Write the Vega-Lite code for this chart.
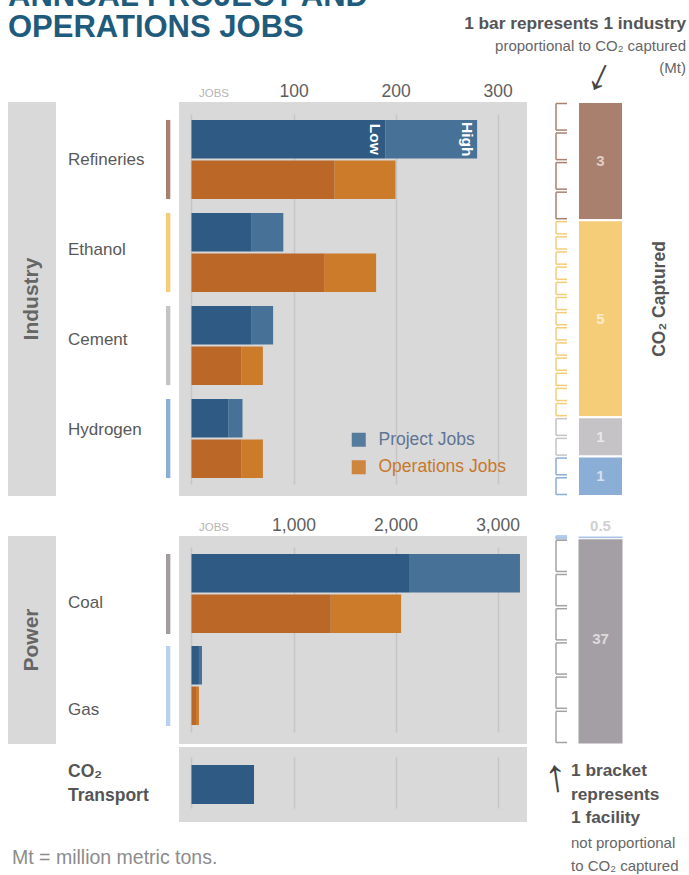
{
"$schema": "https://vega.github.io/schema/vega-lite/v6.json",
"padding": {"left": 8, "top": -19, "right": 0, "bottom": 0},
"background": "#ffffff",
"config": {"view": {"stroke": null}, "font": "Liberation Sans", "concat": {"spacing": 0}},
"datasets": {
 "industryJobs": [
  {"category": "Refineries", "jobType": "Project Jobs", "low": 190, "high": 280},
  {"category": "Refineries", "jobType": "Operations Jobs", "low": 140, "high": 200},
  {"category": "Ethanol", "jobType": "Project Jobs", "low": 59, "high": 90},
  {"category": "Ethanol", "jobType": "Operations Jobs", "low": 130, "high": 181},
  {"category": "Cement", "jobType": "Project Jobs", "low": 59, "high": 80},
  {"category": "Cement", "jobType": "Operations Jobs", "low": 49, "high": 70},
  {"category": "Hydrogen", "jobType": "Project Jobs", "low": 36, "high": 50},
  {"category": "Hydrogen", "jobType": "Operations Jobs", "low": 49, "high": 70}
 ],
 "powerJobs": [
  {"category": "Coal", "jobType": "Project Jobs", "low": 2140, "high": 3220},
  {"category": "Coal", "jobType": "Operations Jobs", "low": 1365, "high": 2055},
  {"category": "Gas", "jobType": "Project Jobs", "low": 73, "high": 103},
  {"category": "Gas", "jobType": "Operations Jobs", "low": 44, "high": 73}
 ],
 "transportJobs": [
  {"category": "CO₂ Transport", "jobType": "Project Jobs", "low": 613}
 ],
 "industryCO2": [
  {"category": "Refineries", "co2": 3, "rank": 1},
  {"category": "Ethanol", "co2": 5, "rank": 2},
  {"category": "Cement", "co2": 1, "rank": 3},
  {"category": "Hydrogen", "co2": 1, "rank": 4}
 ],
 "powerCO2": [
  {"category": "Gas", "co2": 0.5, "rank": 1},
  {"category": "Coal", "co2": 37, "rank": 2}
 ],
 "industryFacilities": [
  {"category": "Refineries", "facility": 1, "co2": 0.75, "rank": 1},
  {"category": "Refineries", "facility": 2, "co2": 0.75, "rank": 1},
  {"category": "Refineries", "facility": 3, "co2": 0.75, "rank": 1},
  {"category": "Refineries", "facility": 4, "co2": 0.75, "rank": 1},
  {"category": "Ethanol", "facility": 1, "co2": 0.3846, "rank": 2},
  {"category": "Ethanol", "facility": 2, "co2": 0.3846, "rank": 2},
  {"category": "Ethanol", "facility": 3, "co2": 0.3846, "rank": 2},
  {"category": "Ethanol", "facility": 4, "co2": 0.3846, "rank": 2},
  {"category": "Ethanol", "facility": 5, "co2": 0.3846, "rank": 2},
  {"category": "Ethanol", "facility": 6, "co2": 0.3846, "rank": 2},
  {"category": "Ethanol", "facility": 7, "co2": 0.3846, "rank": 2},
  {"category": "Ethanol", "facility": 8, "co2": 0.3846, "rank": 2},
  {"category": "Ethanol", "facility": 9, "co2": 0.3846, "rank": 2},
  {"category": "Ethanol", "facility": 10, "co2": 0.3846, "rank": 2},
  {"category": "Ethanol", "facility": 11, "co2": 0.3846, "rank": 2},
  {"category": "Ethanol", "facility": 12, "co2": 0.3846, "rank": 2},
  {"category": "Ethanol", "facility": 13, "co2": 0.3846, "rank": 2},
  {"category": "Cement", "facility": 1, "co2": 0.5, "rank": 3},
  {"category": "Cement", "facility": 2, "co2": 0.5, "rank": 3},
  {"category": "Hydrogen", "facility": 1, "co2": 0.5, "rank": 4},
  {"category": "Hydrogen", "facility": 2, "co2": 0.5, "rank": 4}
 ],
 "powerFacilities": [
  {"category": "Gas", "facility": 1, "co2": 0.25, "rank": 1},
  {"category": "Gas", "facility": 2, "co2": 0.25, "rank": 1},
  {"category": "Coal", "facility": 1, "co2": 6.1667, "rank": 2},
  {"category": "Coal", "facility": 2, "co2": 6.1667, "rank": 2},
  {"category": "Coal", "facility": 3, "co2": 6.1667, "rank": 2},
  {"category": "Coal", "facility": 4, "co2": 6.1667, "rank": 2},
  {"category": "Coal", "facility": 5, "co2": 6.1667, "rank": 2},
  {"category": "Coal", "facility": 6, "co2": 6.1667, "rank": 2}
 ]
},
"columns": 7,
"spacing": 0,
"bounds": "flush",
"align": "each",
"resolve": {"scale": {"color": "independent", "fill": "independent"}, "legend": {"color": "independent", "fill": "independent"}},
"concat": [
 {"width": 48, "height": 102, "data": {"values": [{}]},
  "mark": {"type": "text", "text": ["ANNUAL PROJECT AND", "OPERATIONS JOBS"], "x": 0, "y": 6, "align": "left", "baseline": "alphabetic", "fontSize": 31, "lineHeight": 30.7, "fontWeight": "bold", "color": "#1f5b7c"}},
 {"width": 1, "height": 1, "data": {"values": [{}]}, "mark": {"type": "rect", "opacity": 0}},
 {"width": 1, "height": 1, "data": {"values": [{}]}, "mark": {"type": "rect", "opacity": 0}},
 {"width": 1, "height": 1, "data": {"values": [{}]}, "mark": {"type": "rect", "opacity": 0}},
 {"width": 1, "height": 1, "data": {"values": [{}]}, "mark": {"type": "rect", "opacity": 0}},
 {"width": 45, "height": 102, "data": {"values": [{}]},
  "mark": {"type": "text", "text": "↓", "y": 76, "align": "center", "baseline": "middle", "angle": 25, "fontSize": 46, "color": "#444444"}},
 {"width": 66, "height": 102, "data": {"values": [{}]},
  "layer": [
   {"mark": {"type": "text", "text": "1 bar represents 1 industry", "x": "width", "dx": -3, "y": 29, "align": "right", "baseline": "alphabetic", "fontSize": 17.3, "fontWeight": "bold", "color": "#555555"}},
   {"mark": {"type": "text", "text": ["proportional to CO₂ captured", "(Mt)"], "x": "width", "dx": -3, "y": 51, "align": "right", "baseline": "alphabetic", "fontSize": 15, "lineHeight": 22, "color": "#666666"}}
  ]},

 {"width": 48, "height": 394, "view": {"fill": "#d9d9d9"}, "data": {"values": [{}]},
  "mark": {"type": "text", "text": "Industry", "angle": 270, "align": "center", "baseline": "middle", "fontSize": 21, "fontWeight": "bold", "color": "#666666"}},
 {"width": 110, "height": 394, "data": {"name": "industryCO2"},
  "mark": {"type": "text", "x": 0, "dx": 12, "align": "left", "baseline": "middle", "fontSize": 17, "color": "#595959"},
  "encoding": {
   "y": {"field": "category", "type": "nominal", "scale": {"type": "point", "domain": ["Refineries", "Ethanol", "Cement", "Hydrogen"], "padding": 0.689, "align": 0.464}, "axis": null},
   "text": {"field": "category", "type": "nominal"}}},
 {"width": 13, "height": 394, "data": {"name": "industryCO2"},
  "mark": {"type": "rect"},
  "encoding": {
   "x": {"datum": "line", "type": "nominal", "scale": {"paddingInner": 0, "paddingOuter": 1.125, "align": 0}, "axis": null},
   "y": {"field": "category", "type": "nominal", "scale": {"domain": ["Refineries", "Ethanol", "Cement", "Hydrogen"], "paddingInner": 0.15, "paddingOuter": 0.193}, "axis": null},
   "color": {"field": "category", "type": "nominal", "scale": {"domain": ["Refineries", "Ethanol", "Cement", "Hydrogen"], "range": ["#a9806d", "#f5cd78", "#c5c3c6", "#8baed6"]}, "legend": null}}},
 {"width": 348, "height": 394, "view": {"fill": "#d9d9d9"}, "data": {"name": "industryJobs"},
  "encoding": {
   "y": {"field": "category", "type": "nominal", "scale": {"domain": ["Refineries", "Ethanol", "Cement", "Hydrogen"], "paddingInner": 0.15, "paddingOuter": 0.193}, "axis": null},
   "yOffset": {"field": "jobType", "type": "nominal", "scale": {"domain": ["Project Jobs", "Operations Jobs"], "paddingInner": 0.05, "paddingOuter": 0}}
  },
  "layer": [
   {"mark": {"type": "bar"},
    "encoding": {
     "x": {"field": "low", "type": "quantitative", "scale": {"domain": [-12.25, 328.9], "nice": false, "zero": false},
      "axis": {"orient": "top", "values": [0, 100, 200, 300], "title": null, "domain": false, "ticks": false, "tickSize": 0, "labelPadding": 6, "labelBaseline": "alphabetic", "labelFlush": false, "labelOverlap": false,
       "labelExpr": "datum.value === 0 ? 'JOBS' : datum.label",
       "labelFontSize": {"condition": {"test": "datum.value === 0", "value": 11.5}, "value": 17.5},
       "labelColor": {"condition": {"test": "datum.value === 0", "value": "#b5b5b5"}, "value": "#5e5e5e"},
       "labelAlign": {"condition": {"test": "datum.value === 0", "value": "left"}, "value": "center"},
       "labelOffset": {"condition": {"test": "datum.value === 0", "value": 7}, "value": 0},
       "grid": true, "gridColor": "#c6c6c6", "gridWidth": 1.5, "gridDash": [0, 12, 370, 1000]}},
     "x2": {"field": "high"},
     "color": {"field": "jobType", "type": "nominal", "scale": {"domain": ["Project Jobs", "Operations Jobs"], "range": ["#477196", "#cc7b2b"]},
      "legend": {"orient": "none", "legendX": 171, "legendY": 329, "title": null, "symbolType": "square", "symbolSize": 196, "symbolStrokeWidth": 0, "symbolOpacity": 0.9, "labelFontSize": 17.5, "labelColor": {"expr": "datum.label === 'Project Jobs' ? '#5f7594' : '#c8782b'"}, "labelOffset": 11, "rowPadding": 8.5, "padding": 0, "labelLimit": 300}}
    }},
   {"mark": {"type": "bar"},
    "encoding": {
     "x": {"field": "low", "type": "quantitative"},
     "x2": {"datum": 0},
     "fill": {"field": "jobType", "type": "nominal", "scale": {"domain": ["Project Jobs", "Operations Jobs"], "range": ["#2e5a84", "#bb6727"]}, "legend": null}
    }},
   {"transform": [{"filter": "datum.category === 'Refineries' && datum.jobType === 'Project Jobs'"}],
    "mark": {"type": "text", "text": "Low", "angle": 90, "align": "center", "baseline": "top", "dy": 3, "fontSize": 15.5, "fontWeight": "bold", "color": "#ffffff"},
    "encoding": {"x": {"field": "low", "type": "quantitative"}}},
   {"transform": [{"filter": "datum.category === 'Refineries' && datum.jobType === 'Project Jobs'"}],
    "mark": {"type": "text", "text": "High", "angle": 90, "align": "center", "baseline": "top", "dy": 3, "fontSize": 15.5, "fontWeight": "bold", "color": "#ffffff"},
    "encoding": {"x": {"field": "high", "type": "quantitative"}}}
  ]
 },
 {"width": 51, "height": 394, "data": {"name": "industryFacilities"},
  "transform": [{"stack": "co2", "groupby": [], "sort": [{"field": "rank", "order": "ascending"}, {"field": "facility", "order": "ascending"}], "as": ["y0", "y1"]}],
  "encoding": {
   "color": {"field": "category", "type": "nominal", "scale": {"domain": ["Refineries", "Ethanol", "Cement", "Hydrogen"], "range": ["#a9806d", "#f5cd78", "#c5c3c6", "#8baed6"]}, "legend": null}
  },
  "layer": [
   {"mark": {"type": "rule", "strokeWidth": 1.5, "yOffset": 1.5, "y2Offset": -1.5},
    "encoding": {
     "x": {"datum": 0, "type": "quantitative", "scale": {"domain": [-2.636, 2], "nice": false, "zero": false}, "axis": null},
     "y": {"field": "y0", "type": "quantitative", "scale": {"domain": [0, 10], "reverse": true, "nice": false, "zero": false}, "axis": null},
     "y2": {"field": "y1"}}},
   {"mark": {"type": "rule", "strokeWidth": 1.5, "yOffset": 1.5},
    "encoding": {
     "x": {"datum": 0, "type": "quantitative", "axis": null},
     "x2": {"datum": 1},
     "y": {"field": "y0", "type": "quantitative", "axis": null}}},
   {"mark": {"type": "rule", "strokeWidth": 1.5, "yOffset": -1.5},
    "encoding": {
     "x": {"datum": 0, "type": "quantitative", "axis": null},
     "x2": {"datum": 1},
     "y": {"field": "y1", "type": "quantitative", "axis": null}}}
  ]
 },
 {"width": 45, "height": 394, "data": {"name": "industryCO2"},
  "encoding": {
   "x": {"datum": "co2", "type": "nominal", "scale": {"paddingInner": 0, "paddingOuter": 0}, "axis": null},
   "order": {"field": "rank", "type": "quantitative"},
   "detail": {"field": "category", "type": "nominal"}
  },
  "layer": [
   {"mark": {"type": "bar", "stroke": "#ffffff", "strokeWidth": 2},
    "encoding": {
     "y": {"field": "co2", "type": "quantitative", "stack": "zero", "scale": {"domain": [0, 10], "reverse": true, "nice": false, "zero": false}, "axis": null},
     "color": {"field": "category", "type": "nominal", "scale": {"domain": ["Refineries", "Ethanol", "Cement", "Hydrogen"], "range": ["#a9806d", "#f5cd78", "#c5c3c6", "#8baed6"]}, "legend": null}}},
   {"mark": {"type": "text", "color": "#ffffff", "opacity": 0.62, "fontSize": 15, "fontWeight": "bold", "baseline": "middle"},
    "encoding": {
     "y": {"field": "co2", "type": "quantitative", "stack": "zero", "bandPosition": 0.5},
     "text": {"field": "co2", "type": "quantitative"}}}
  ]
 },
 {"width": 66, "height": 394, "data": {"values": [{}]},
  "mark": {"type": "text", "text": "CO₂ Captured", "angle": 270, "xOffset": 4, "align": "center", "baseline": "middle", "fontSize": 17.5, "fontWeight": "bold", "color": "#555555"}},

 {"width": 1, "height": 40, "data": {"values": [{}]}, "mark": {"type": "rect", "opacity": 0}},
 {"width": 1, "height": 1, "data": {"values": [{}]}, "mark": {"type": "rect", "opacity": 0}},
 {"width": 1, "height": 1, "data": {"values": [{}]}, "mark": {"type": "rect", "opacity": 0}},
 {"width": 1, "height": 1, "data": {"values": [{}]}, "mark": {"type": "rect", "opacity": 0}},
 {"width": 1, "height": 1, "data": {"values": [{}]}, "mark": {"type": "rect", "opacity": 0}},
 {"width": 1, "height": 1, "data": {"values": [{}]}, "mark": {"type": "rect", "opacity": 0}},
 {"width": 1, "height": 1, "data": {"values": [{}]}, "mark": {"type": "rect", "opacity": 0}},

 {"width": 48, "height": 208, "view": {"fill": "#d9d9d9"}, "data": {"values": [{}]},
  "mark": {"type": "text", "text": "Power", "angle": 270, "align": "center", "baseline": "middle", "fontSize": 21, "fontWeight": "bold", "color": "#666666"}},
 {"width": 110, "height": 208, "data": {"name": "powerCO2"},
  "mark": {"type": "text", "x": 0, "dx": 12, "align": "left", "baseline": "middle", "fontSize": 17, "color": "#595959"},
  "encoding": {
   "y": {"field": "category", "type": "nominal", "scale": {"type": "point", "domain": ["Coal", "Gas"], "padding": 0.472, "align": 0.663}, "axis": null},
   "text": {"field": "category", "type": "nominal"}}},
 {"width": 13, "height": 208, "data": {"name": "powerCO2"},
  "mark": {"type": "rect"},
  "encoding": {
   "x": {"datum": "line", "type": "nominal", "scale": {"paddingInner": 0, "paddingOuter": 1.125, "align": 0}, "axis": null},
   "y": {"field": "category", "type": "nominal", "scale": {"domain": ["Coal", "Gas"], "paddingInner": 0.13, "paddingOuter": 0.1955}, "axis": null},
   "color": {"field": "category", "type": "nominal", "scale": {"domain": ["Coal", "Gas"], "range": ["#a09c9f", "#b9d0ee"]}, "legend": null}}},
 {"width": 348, "height": 208, "view": {"fill": "#d9d9d9"}, "data": {"name": "powerJobs"},
  "encoding": {
   "y": {"field": "category", "type": "nominal", "scale": {"domain": ["Coal", "Gas"], "paddingInner": 0.13, "paddingOuter": 0.1955}, "axis": null},
   "yOffset": {"field": "jobType", "type": "nominal", "scale": {"domain": ["Project Jobs", "Operations Jobs"], "paddingInner": 0.05, "paddingOuter": 0}}
  },
  "layer": [
   {"mark": {"type": "bar"},
    "encoding": {
     "x": {"field": "low", "type": "quantitative", "scale": {"domain": [-122.5, 3289], "nice": false, "zero": false},
      "axis": {"orient": "top", "values": [0, 1000, 2000, 3000], "title": null, "domain": false, "ticks": false, "tickSize": 0, "labelPadding": 6, "labelBaseline": "alphabetic", "labelFlush": false, "labelOverlap": false,
       "labelExpr": "datum.value === 0 ? 'JOBS' : format(datum.value, ',')",
       "labelFontSize": {"condition": {"test": "datum.value === 0", "value": 11.5}, "value": 17.5},
       "labelColor": {"condition": {"test": "datum.value === 0", "value": "#b5b5b5"}, "value": "#5e5e5e"},
       "labelAlign": {"condition": {"test": "datum.value === 0", "value": "left"}, "value": "center"},
       "labelOffset": {"condition": {"test": "datum.value === 0", "value": 7}, "value": 0},
       "grid": true, "gridColor": "#c6c6c6", "gridWidth": 1.5, "gridDash": [0, 11, 185, 1000]}},
     "x2": {"field": "high"},
     "color": {"field": "jobType", "type": "nominal", "scale": {"domain": ["Project Jobs", "Operations Jobs"], "range": ["#477196", "#cc7b2b"]}, "legend": null}
    }},
   {"mark": {"type": "bar"},
    "encoding": {
     "x": {"field": "low", "type": "quantitative"},
     "x2": {"datum": 0},
     "fill": {"field": "jobType", "type": "nominal", "scale": {"domain": ["Project Jobs", "Operations Jobs"], "range": ["#2e5a84", "#bb6727"]}, "legend": null}
    }}
  ]
 },
 {"width": 51, "height": 208, "data": {"name": "powerFacilities"},
  "transform": [{"stack": "co2", "groupby": [], "sort": [{"field": "rank", "order": "ascending"}, {"field": "facility", "order": "ascending"}], "as": ["y0", "y1"]}],
  "encoding": {
   "color": {"field": "category", "type": "nominal", "scale": {"domain": ["Gas", "Coal"], "range": ["#a9c5e6", "#a3a3a3"]}, "legend": null}
  },
  "layer": [
   {"mark": {"type": "rule", "strokeWidth": 1.5, "yOffset": 1.5, "y2Offset": -1.5},
    "encoding": {
     "x": {"datum": 0, "type": "quantitative", "scale": {"domain": [-2.636, 2], "nice": false, "zero": false}, "axis": null},
     "y": {"field": "y0", "type": "quantitative", "scale": {"domain": [0, 37.5], "reverse": true, "nice": false, "zero": false}, "axis": null},
     "y2": {"field": "y1"}}},
   {"mark": {"type": "rule", "strokeWidth": 1.5, "yOffset": 1.5},
    "encoding": {
     "x": {"datum": 0, "type": "quantitative", "axis": null},
     "x2": {"datum": 1},
     "y": {"field": "y0", "type": "quantitative", "axis": null}}},
   {"mark": {"type": "rule", "strokeWidth": 1.5, "yOffset": -1.5},
    "encoding": {
     "x": {"datum": 0, "type": "quantitative", "axis": null},
     "x2": {"datum": 1},
     "y": {"field": "y1", "type": "quantitative", "axis": null}}}
  ]
 },
 {"width": 45, "height": 208, "data": {"name": "powerCO2"},
  "encoding": {
   "x": {"datum": "co2", "type": "nominal", "scale": {"paddingInner": 0, "paddingOuter": 0}, "axis": null},
   "order": {"field": "rank", "type": "quantitative"},
   "detail": {"field": "category", "type": "nominal"}
  },
  "layer": [
   {"mark": {"type": "bar", "stroke": "#ffffff", "strokeWidth": 1},
    "encoding": {
     "y": {"field": "co2", "type": "quantitative", "stack": "zero", "scale": {"domain": [0, 37.5], "reverse": true, "nice": false, "zero": false}, "axis": null},
     "color": {"field": "category", "type": "nominal", "scale": {"domain": ["Gas", "Coal"], "range": ["#a9c5e6", "#a49fa4"]}, "legend": null}}},
   {"transform": [{"filter": "datum.category === 'Coal'"}],
    "mark": {"type": "text", "color": "#ffffff", "opacity": 0.62, "fontSize": 15, "fontWeight": "bold", "baseline": "middle"},
    "encoding": {
     "y": {"field": "co2", "type": "quantitative", "stack": "zero", "bandPosition": 0.5},
     "text": {"field": "co2", "type": "quantitative"}}},
   {"transform": [{"filter": "datum.category === 'Gas'"}],
    "mark": {"type": "text", "color": "#d0d0d0", "fontSize": 15, "fontWeight": "bold", "baseline": "middle", "dy": -10},
    "encoding": {
     "y": {"field": "co2", "type": "quantitative", "stack": "zero", "bandPosition": 0},
     "text": {"field": "co2", "type": "quantitative"}}}
  ]
 },
 {"width": 1, "height": 1, "data": {"values": [{}]}, "mark": {"type": "rect", "opacity": 0}},

 {"width": 1, "height": 3, "data": {"values": [{}]}, "mark": {"type": "rect", "opacity": 0}},
 {"width": 1, "height": 1, "data": {"values": [{}]}, "mark": {"type": "rect", "opacity": 0}},
 {"width": 1, "height": 1, "data": {"values": [{}]}, "mark": {"type": "rect", "opacity": 0}},
 {"width": 1, "height": 1, "data": {"values": [{}]}, "mark": {"type": "rect", "opacity": 0}},
 {"width": 1, "height": 1, "data": {"values": [{}]}, "mark": {"type": "rect", "opacity": 0}},
 {"width": 1, "height": 1, "data": {"values": [{}]}, "mark": {"type": "rect", "opacity": 0}},
 {"width": 1, "height": 1, "data": {"values": [{}]}, "mark": {"type": "rect", "opacity": 0}},

 {"width": 1, "height": 1, "data": {"values": [{}]}, "mark": {"type": "rect", "opacity": 0}},
 {"width": 110, "height": 75, "data": {"name": "transportJobs"},
  "mark": {"type": "text", "x": 0, "dx": 12, "dy": -13, "align": "left", "baseline": "middle", "fontSize": 17.5, "fontWeight": "bold", "color": "#555555", "lineBreak": " ", "lineHeight": 24},
  "encoding": {
   "y": {"field": "category", "type": "nominal", "scale": {"domain": ["CO₂ Transport"]}, "axis": null},
   "text": {"field": "category", "type": "nominal"}}},
 {"width": 1, "height": 1, "data": {"values": [{}]}, "mark": {"type": "rect", "opacity": 0}},
 {"width": 348, "height": 75, "view": {"fill": "#d9d9d9"}, "data": {"name": "transportJobs"},
  "mark": {"type": "bar", "color": "#2e5a84"},
  "encoding": {
   "y": {"field": "category", "type": "nominal", "scale": {"domain": ["CO₂ Transport"], "paddingInner": 0, "paddingOuter": 0.4615}, "axis": null},
   "x": {"field": "low", "type": "quantitative", "scale": {"domain": [-122.5, 3289], "nice": false, "zero": false},
    "axis": {"orient": "top", "values": [0, 1000, 2000, 3000], "title": null, "domain": false, "ticks": false, "labels": false, "grid": true, "gridColor": "#c6c6c6", "gridWidth": 1.5, "gridDash": [0, 10, 51, 1000]}},
   "x2": {"datum": 0}}},
 {"width": 51, "height": 75, "data": {"values": [{}]},
  "layer": [
   {"mark": {"type": "text", "text": "↑", "x": 29, "y": 30, "angle": -8, "align": "center", "baseline": "middle", "fontSize": 46, "color": "#444444"}},
   {"mark": {"type": "text", "text": ["1 bracket", "represents", "1 facility"], "x": 44, "y": 29, "align": "left", "baseline": "alphabetic", "fontSize": 17.3, "lineHeight": 23.5, "fontWeight": "bold", "color": "#555555"}},
   {"mark": {"type": "text", "text": ["not proportional", "to CO₂ captured"], "x": 44, "y": 101, "align": "left", "baseline": "alphabetic", "fontSize": 15, "lineHeight": 23, "color": "#666666"}}
  ]},
 {"width": 1, "height": 1, "data": {"values": [{}]}, "mark": {"type": "rect", "opacity": 0}},
 {"width": 1, "height": 1, "data": {"values": [{}]}, "mark": {"type": "rect", "opacity": 0}},

 {"width": 48, "height": 53, "data": {"values": [{}]},
  "mark": {"type": "text", "text": "Mt = million metric tons.", "x": 0, "dx": 4, "y": 42, "align": "left", "baseline": "alphabetic", "fontSize": 19.5, "color": "#8c8c8c"}},
 {"width": 1, "height": 1, "data": {"values": [{}]}, "mark": {"type": "rect", "opacity": 0}},
 {"width": 1, "height": 1, "data": {"values": [{}]}, "mark": {"type": "rect", "opacity": 0}},
 {"width": 1, "height": 1, "data": {"values": [{}]}, "mark": {"type": "rect", "opacity": 0}},
 {"width": 1, "height": 1, "data": {"values": [{}]}, "mark": {"type": "rect", "opacity": 0}},
 {"width": 1, "height": 1, "data": {"values": [{}]}, "mark": {"type": "rect", "opacity": 0}},
 {"width": 1, "height": 1, "data": {"values": [{}]}, "mark": {"type": "rect", "opacity": 0}}
]
}
